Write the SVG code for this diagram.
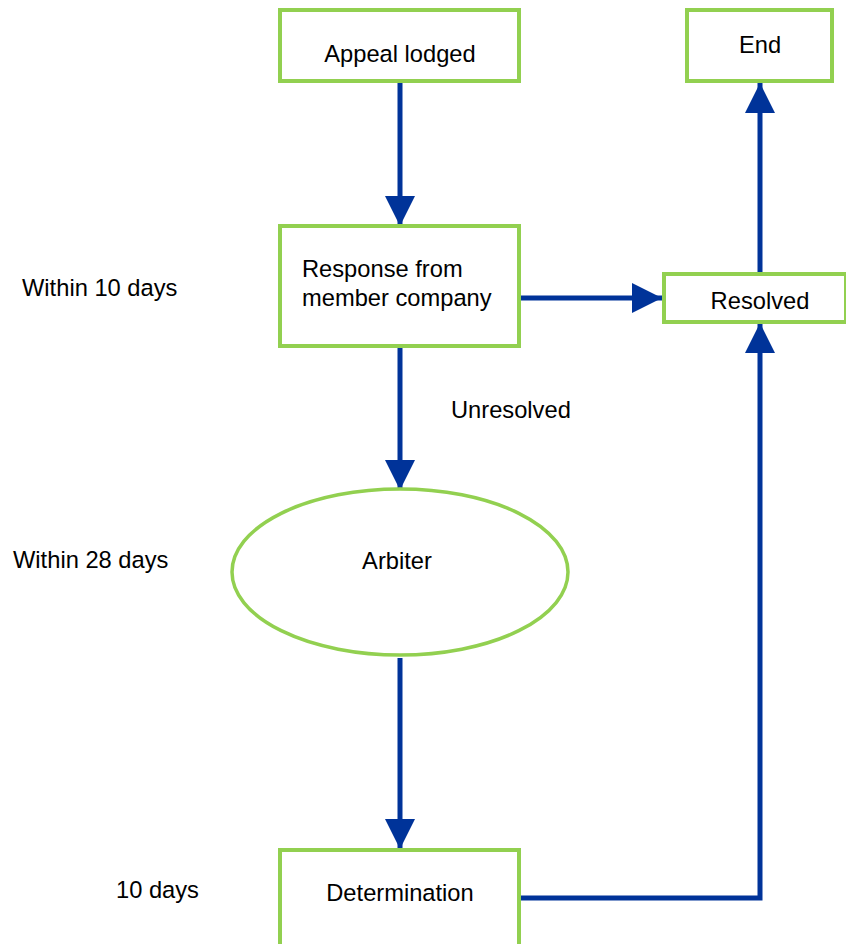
<svg xmlns="http://www.w3.org/2000/svg" width="846" height="944" viewBox="0 0 846 944">
<style>
.box{fill:#fff;stroke:#92D050;stroke-width:4}
.t{font-family:"Liberation Sans",Arial,sans-serif;font-size:23.7px;fill:#000}
.c{stroke:#003399;stroke-width:5;fill:none}
</style>
<defs>
<marker id="ah" markerUnits="userSpaceOnUse" markerWidth="30" markerHeight="30" refX="30" refY="15" orient="auto">
<path d="M0,0 L30,15 L0,30 Z" fill="#003399"/>
</marker>
</defs>
<rect width="846" height="944" fill="#fff"/>
<g id="connectors">
<path class="c" d="M400,82 V226" marker-end="url(#ah)"/>
<path class="c" d="M521,298 H662" marker-end="url(#ah)"/>
<path class="c" d="M760,272 V83" marker-end="url(#ah)"/>
<path class="c" d="M400,347 V490" marker-end="url(#ah)"/>
<path class="c" d="M400,658 V849" marker-end="url(#ah)"/>
<path class="c" d="M521,898 H760 V323" marker-end="url(#ah)"/>
</g>
<g id="appeal"><rect class="box" x="280" y="10" width="239" height="71"/><text class="t" x="400" y="62" text-anchor="middle">Appeal lodged</text></g>
<g id="end"><rect class="box" x="687" y="10" width="145" height="71"/><text class="t" x="760" y="53" text-anchor="middle">End</text></g>
<g id="response"><rect class="box" x="280" y="226" width="239" height="120"/><text class="t" x="302" y="277">Response from</text><text class="t" x="302" y="306">member company</text></g>
<g id="resolved"><rect class="box" x="664" y="274" width="182" height="48"/><text class="t" x="760" y="309" text-anchor="middle">Resolved</text></g>
<g id="arbiter"><ellipse cx="400" cy="572" rx="168" ry="83" fill="#fff" stroke="#92D050" stroke-width="3.5"/><text class="t" x="397" y="569" text-anchor="middle">Arbiter</text></g>
<g id="determination"><rect class="box" x="280" y="850" width="239" height="110"/><text class="t" x="400" y="901" text-anchor="middle">Determination</text></g>
<g id="labels">
<text class="t" x="22" y="296">Within 10 days</text>
<text class="t" x="451" y="418">Unresolved</text>
<text class="t" x="13" y="568">Within 28 days</text>
<text class="t" x="116" y="898">10 days</text>
</g>
</svg>
